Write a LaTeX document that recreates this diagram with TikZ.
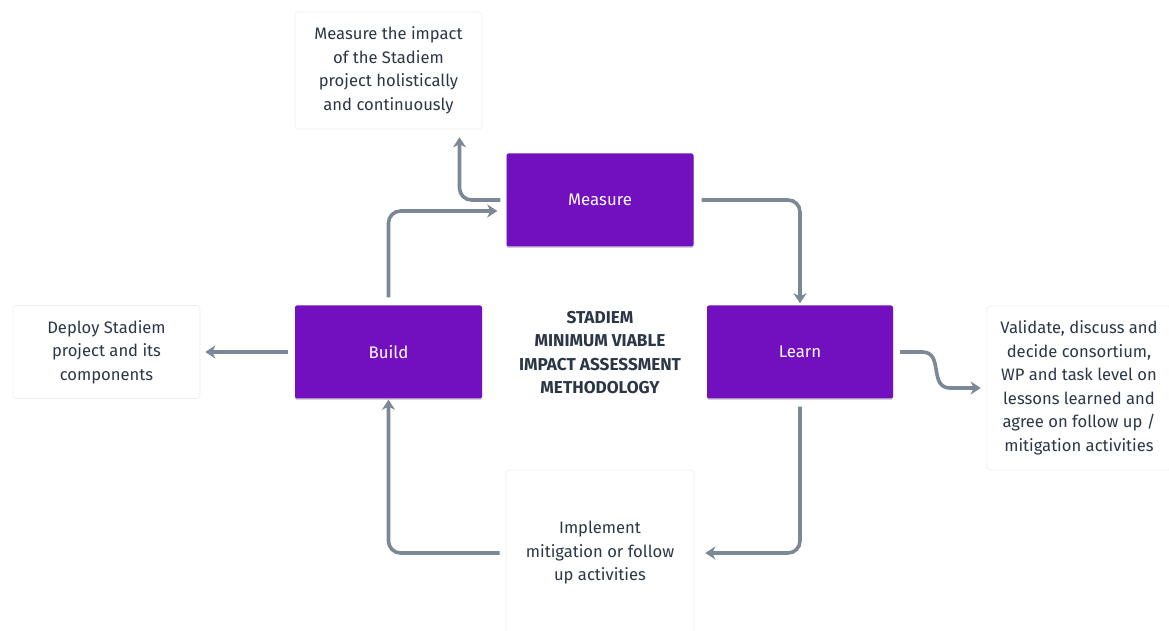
\documentclass[tikz,border=0pt]{standalone}
\usepackage{fontspec}
\setmainfont{Fira Sans}
\usetikzlibrary{arrows.meta,shadows}
\definecolor{purp}{HTML}{7210C0}
\definecolor{txt}{HTML}{2B3746}
\definecolor{arr}{HTML}{7B8896}
\definecolor{noteline}{HTML}{EEEEEE}
\tikzset{
  stepbox/.style={fill=purp, rounded corners=2pt, minimum width=187pt, minimum height=93pt,
    text=white, font=\fontsize{16.8}{20}\selectfont,
    drop shadow={shadow xshift=0pt, shadow yshift=-1.5pt, opacity=0.18, fill=black}},
  notebox/.style={draw=noteline, line width=0.6pt, fill=white, rounded corners=3pt,
    text=txt, align=center, font=\fontsize{16.6}{23.5}\selectfont, inner sep=0pt},
  flow/.style={draw=arr, line width=3.6pt, rounded corners=12pt,
    -{Stealth[length=10pt,width=13pt,inset=3pt]}},
}
\begin{document}
\begin{tikzpicture}[x=1pt,y=1pt]
\useasboundingbox (0,0) rectangle (1169,631);
\fill[white] (0,0) rectangle (1169,631);
\node[stepbox] (meas) at (600,431) {Measure};
\node[stepbox] (build) at (388.5,279) {Build};
\node[stepbox, minimum width=186pt] (learn) at (800,279) {Learn};
\node[notebox, minimum width=187pt, minimum height=117pt] (topnote) at (388.5,560.5)
  {Measure the impact\\of the Stadiem\\project holistically\\and continuously};
\node[notebox, minimum width=187pt, minimum height=93pt] (leftnote) at (106.5,279)
  {Deploy Stadiem\\project and its\\components};
\node[notebox, minimum width=184pt, minimum height=164pt] (rightnote) at (1079,243)
  {Validate, discuss and\\decide consortium,\\WP and task level on\\lessons learned and\\agree on follow up /\\mitigation activities};
\node[notebox, minimum width=188pt, minimum height=166pt] (botnote) at (600,78)
  {Implement\\mitigation or follow\\up activities};
\node[text=txt, align=center, font=\bfseries\fontsize{17.2}{23.5}\selectfont] (title) at (600,278.5)
  {STADIEM\\MINIMUM VIABLE\\IMPACT ASSESSMENT\\METHODOLOGY};
% connectors
\draw[flow] ([xshift=-6pt]meas.west) -| ([xshift=71pt,yshift=-8pt]topnote.south);
\draw[flow] ([yshift=8pt]build.north) |- ([xshift=-9pt,yshift=-11pt]meas.west);
\draw[flow] ([xshift=8pt]meas.east) -| ([yshift=2pt]learn.north);
\draw[flow, rounded corners=0pt] ([xshift=7pt]learn.east) -- ++(22,0)
  .. controls +(22,0) and +(-22,0) .. ++(28,-36) -- ([xshift=-6pt]rightnote.west);
\draw[flow] ([yshift=-8pt]learn.south) |- ([xshift=11pt]botnote.east);
\draw[flow] ([xshift=-6pt]botnote.west) -| ([yshift=-1pt]build.south);
\draw[flow] ([xshift=-7pt]build.west) -- ([xshift=5pt]leftnote.east);
\end{tikzpicture}
\end{document}
